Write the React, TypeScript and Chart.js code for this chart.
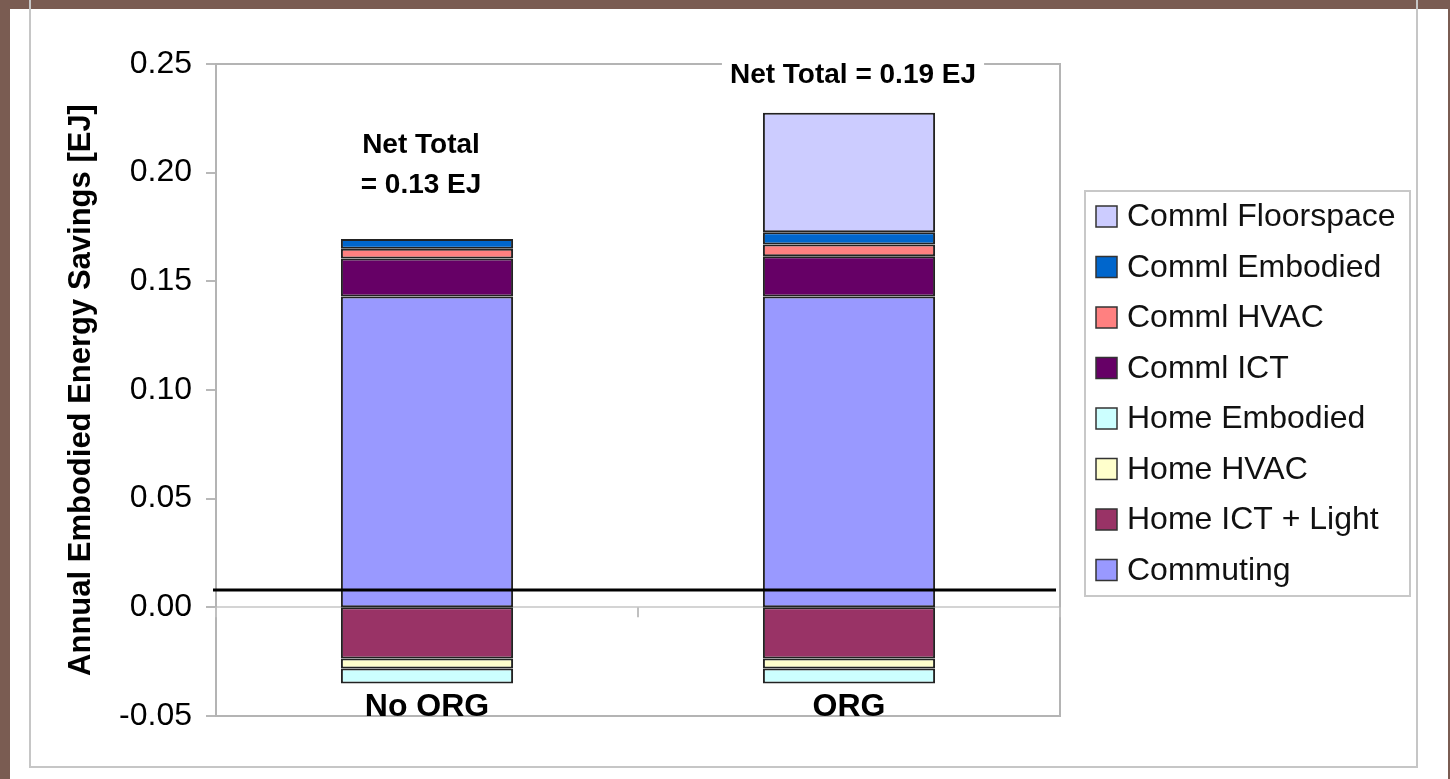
import React, { useEffect, useRef } from "react";
import { Chart, registerables } from "chart.js";
Chart.register(...registerables);

const FONT = "'Liberation Sans', Arial, Helvetica, sans-serif";

const categories = ["No ORG", "ORG"];
const seriesNames = [
  "Commuting",
  "Home ICT + Light",
  "Home HVAC",
  "Home Embodied",
  "Comml ICT",
  "Comml HVAC",
  "Comml Embodied",
  "Comml Floorspace",
];
const commuting = [0.143, 0.143];
const homeIctLight = [-0.0236, -0.0236];
const homeHvac = [-0.0046, -0.0046];
const homeEmbodied = [-0.0068, -0.0068];
const commlIct = [0.0175, 0.0185];
const commlHvac = [0.0045, 0.0054];
const commlEmbodied = [0.0045, 0.0057];
const commlFloorspace = [null, 0.055];
const seriesColors = ["#9999FF", "#993366", "#FFFFCC", "#CCFFFF", "#660066", "#FF8080", "#0066CC", "#CCCCFF"];
const yMin = -0.05;
const yMax = 0.25;
const yStep = 0.05;
const yTitle = "Annual Embodied Energy Savings [EJ]";
const netTotalLabels = [["Net Total", "= 0.13 EJ"], ["Net Total = 0.19 EJ"]];
const netTotalValues = [0.2127, 0.245];
const referenceLineValue = 0.008;

const seriesValues = [commuting, homeIctLight, homeHvac, homeEmbodied, commlIct, commlHvac, commlEmbodied, commlFloorspace];

const decorPlugin = {
  id: "decor",
  beforeDraw(chart: any) {
    const { ctx, width, height } = chart;
    ctx.save();
    ctx.fillStyle = "#7a5c52";
    ctx.fillRect(0, 0, width, height);
    ctx.fillStyle = "#ffffff";
    ctx.fillRect(10, 9, 1438, height - 9);
    ctx.strokeStyle = "#c6c6c6";
    ctx.lineWidth = 2;
    ctx.strokeRect(30, -5, 1387, 772);
    ctx.restore();
  },
  beforeDatasetsDraw(chart: any) {
    const { ctx, chartArea } = chart;
    ctx.save();
    ctx.strokeStyle = "#b4b4b4";
    ctx.lineWidth = 2;
    ctx.strokeRect(chartArea.left, chartArea.top, chartArea.right - chartArea.left, chartArea.bottom - chartArea.top);
    // category tick marks on the zero line
    const xs = chart.scales.x;
    const y0 = chart.scales.y.getPixelForValue(0);
    ctx.strokeStyle = "#c0c0c0";
    for (let i = 0; i <= categories.length; i++) {
      const x = xs.getPixelForValue(i - 0.5);
      ctx.beginPath();
      ctx.moveTo(x, y0);
      ctx.lineTo(x, y0 + 10);
      ctx.stroke();
    }
    ctx.restore();
  },
  afterDatasetsDraw(chart: any) {
    const { ctx, chartArea } = chart;
    const xs = chart.scales.x;
    const ys = chart.scales.y;
    ctx.save();
    // black reference line
    const yr = ys.getPixelForValue(referenceLineValue);
    ctx.strokeStyle = "#000";
    ctx.lineWidth = 3;
    ctx.beginPath();
    ctx.moveTo(chartArea.left - 3, yr);
    ctx.lineTo(chartArea.right - 4, yr);
    ctx.stroke();

    // category labels (drawn inside the plot, just above its bottom edge)
    ctx.font = `bold 32px ${FONT}`;
    ctx.textAlign = "center";
    ctx.textBaseline = "middle";
    ctx.fillStyle = "#000";
    categories.forEach((_, i) => {
      const x = xs.getPixelForValue(i);
      ctx.fillText(xs.getLabelForValue(i), x, chartArea.bottom - 9);
    });

    // net total annotations
    const offsets = [-6, 4];
    ctx.font = `bold 28px ${FONT}`;
    netTotalLabels.forEach((lines, i) => {
      const x = xs.getPixelForValue(i) + offsets[i];
      const yTop = ys.getPixelForValue(netTotalValues[i]);
      lines.forEach((line, j) => {
        const y = yTop + j * 40;
        const w = ctx.measureText(line).width;
        ctx.fillStyle = "#fff";
        ctx.fillRect(x - w / 2 - 8, y - 16, w + 16, 32);
        ctx.fillStyle = "#000";
        ctx.fillText(line, x, y);
      });
    });

    // legend
    const left = 1085;
    const top = 191;
    const right = 1410;
    const bottom = 596;
    ctx.strokeStyle = "#c8c8c8";
    ctx.lineWidth = 2;
    ctx.strokeRect(left, top, right - left, bottom - top);
    const ds = chart.data.datasets.slice().reverse();
    ctx.font = `32px ${FONT}`;
    ctx.textAlign = "left";
    ctx.textBaseline = "middle";
    ds.forEach((d: any, k: number) => {
      const cy = 216.5 + k * 50.5;
      ctx.fillStyle = d.backgroundColor;
      ctx.fillRect(1096, cy - 10.5, 21, 21);
      ctx.strokeStyle = "#333";
      ctx.lineWidth = 1.5;
      ctx.strokeRect(1096, cy - 10.5, 21, 21);
      ctx.fillStyle = "#111";
      ctx.fillText(d.label, 1127, cy + 1);
    });
    ctx.restore();
  },
};

export default function App() {
  const ref = useRef<HTMLCanvasElement>(null);
  useEffect(() => {
    const chart = new Chart(ref.current as HTMLCanvasElement, {
      type: "bar",
      data: {
        labels: categories,
        datasets: seriesNames.map((name, i) => ({
          label: name,
          data: seriesValues[i] as any,
          backgroundColor: seriesColors[i],
          borderColor: "#222",
          borderWidth: 2,
          borderSkipped: false,
          categoryPercentage: 1,
          barPercentage: 0.408,
        })),
      },
      options: {
        animation: false,
        responsive: false,
        devicePixelRatio: 1,
        layout: { padding: { left: 63, top: 64, right: 390, bottom: 0 } },
        plugins: {
          legend: { display: false },
          tooltip: { enabled: false },
        },
        scales: {
          x: {
            stacked: true,
            grid: { display: false, drawTicks: false },
            border: { display: false },
            afterFit(scale: any) {
              scale.height = 63;
            },
            ticks: { display: false },
          },
          y: {
            stacked: true,
            min: yMin,
            max: yMax,
            afterFit(scale: any) {
              scale.width = 153;
            },
            border: { display: true, color: "#a8a8a8", width: 2 },
            grid: {
              color: (c: any) => (Math.abs(c.tick.value) < 1e-9 ? "#d4d4d4" : "transparent"),
              lineWidth: 2,
              tickColor: "#b8b8b8",
              tickLength: 10,
              drawTicks: true,
            },
            ticks: {
              stepSize: yStep,
              padding: 14,
              color: "#000",
              font: { family: FONT, size: 32 },
              callback: (v: any) => (Math.abs(Number(v)) < 1e-9 ? 0 : Number(v)).toFixed(2),
            },
            title: {
              display: true,
              text: yTitle,
              color: "#000",
              padding: 0,
              font: { family: FONT, size: 31, weight: "bold" },
            },
          },
        },
      },
      plugins: [decorPlugin],
    });
    return () => chart.destroy();
  }, []);
  return (
    <div style={{ position: "fixed", left: 0, top: 0, width: 1450, height: 779 }}>
      <canvas ref={ref} width={1450} height={779} style={{ display: "block", width: 1450, height: 779 }} />
    </div>
  );
}
